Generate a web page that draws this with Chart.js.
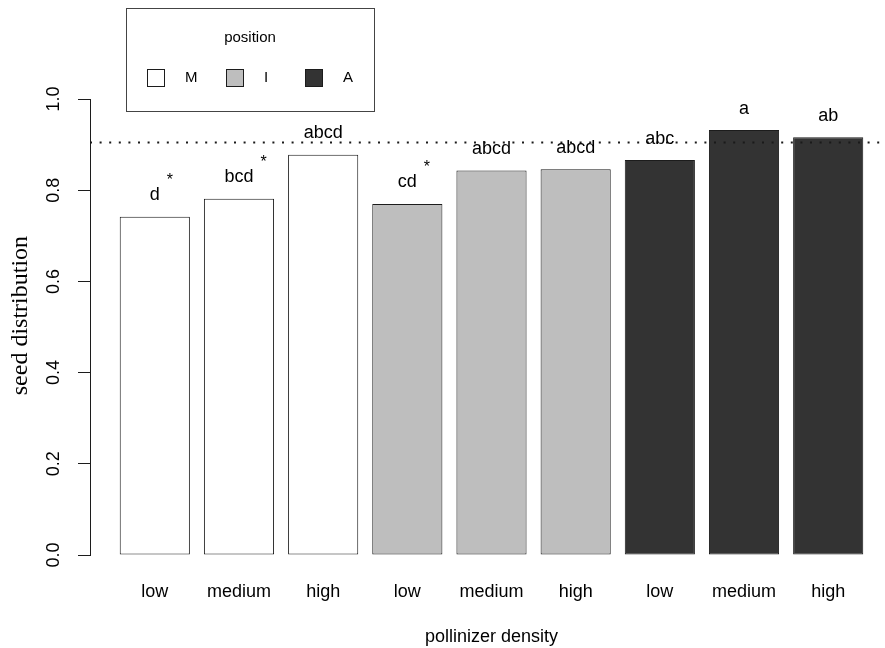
<!DOCTYPE html>
<html>
<head>
<meta charset="utf-8">
<script src="https://cdn.jsdelivr.net/npm/chart.js@4.4.1/dist/chart.umd.min.js"></script>
<style>
  html, body { margin: 0; padding: 0; background: #ffffff; overflow: hidden; }
  #wrap { width: 885px; height: 648px; overflow: hidden; position: relative; }
  canvas { display: block; }
</style>
</head>
<body>
<div id="wrap"><canvas id="chart" width="895" height="648"></canvas></div>
<script>
// Flower position groups and pollinizer density levels
const positions = ['M', 'I', 'A'];
const densities = ['low', 'medium', 'high'];

// Mean seed distribution per density level, one array per position
const seedM = [0.742, 0.781, 0.878];
const seedI = [0.770, 0.843, 0.846];
const seedA = [0.866, 0.932, 0.916];

// Significance letters shown above each bar
const lettersM = ['d', 'bcd', 'abcd'];
const lettersI = ['cd', 'abcd', 'abcd'];
const lettersA = ['abc', 'a', 'ab'];

// Markers for bars that differ from the reference level
const starsM = ['*', '*', ''];
const starsI = ['*', '', ''];
const starsA = ['', '', ''];

// Reference level drawn as a dotted line
const referenceLevel = 0.905;

// Y axis ticks and the vertical range the axis title is centred on
const yTicks = [0.0, 0.2, 0.4, 0.6, 0.8, 1.0];
const yTitleRange = [0, 1.05];

const seriesValues = [seedM, seedI, seedA];
const seriesLetters = [lettersM, lettersI, lettersA];
const seriesStars = [starsM, starsI, starsA];
const groupFill = ['#ffffff', '#bebebe', '#333333'];

// barplot layout: unit-wide bars separated by 0.2 spaces
const SPACE = 0.2;
const barCount = positions.length * densities.length;
const barCenter = k => SPACE * (k + 1) + k + 0.5;
const xFirst = SPACE;
const xLast = barCount * (1 + SPACE);
const xPad = 0.04 * (xLast - xFirst);

const datasets = positions.map((p, g) => ({
  label: p,
  data: seriesValues[g].map((v, i) => ({ x: barCenter(g * densities.length + i), y: v })),
  backgroundColor: groupFill[g],
  borderColor: '#1c1c1c',
  borderWidth: 1,
  borderSkipped: false,
  grouped: false,
  categoryPercentage: 1 / (1 + SPACE),
  barPercentage: 1
}));

// Dotted reference line across the plot
const referenceLine = {
  id: 'referenceLine',
  afterDatasetsDraw(chart) {
    const { ctx, chartArea, scales } = chart;
    const y = Math.round(scales.y.getPixelForValue(referenceLevel)) + 0.5;
    ctx.save();
    ctx.strokeStyle = '#1a1a1a';
    ctx.lineWidth = 2;
    ctx.setLineDash([2, 7.6]);
    ctx.beginPath();
    ctx.moveTo(chartArea.left, y);
    ctx.lineTo(chartArea.right, y);
    ctx.stroke();
    ctx.restore();
  }
};

// Letters and asterisks above the bars
const barLetters = {
  id: 'barLetters',
  afterDatasetsDraw(chart) {
    const { ctx } = chart;
    ctx.save();
    ctx.fillStyle = '#000000';
    chart.data.datasets.forEach((ds, g) => {
      const meta = chart.getDatasetMeta(g);
      meta.data.forEach((bar, i) => {
        const text = seriesLetters[g][i];
        const base = bar.y - 16.5;
        ctx.font = '18px "Liberation Sans", Arial, sans-serif';
        ctx.textAlign = 'center';
        ctx.textBaseline = 'alphabetic';
        ctx.fillText(text, bar.x, base);
        const star = seriesStars[g][i];
        if (star) {
          const w = ctx.measureText(text).width;
          ctx.font = '16px "Liberation Sans", Arial, sans-serif';
          ctx.fillText(star, bar.x + w / 2 + 10, base - 15);
        }
      });
    });
    ctx.restore();
  }
};

// Y axis title, serif, centred on the padded value range
const yAxisTitle = {
  id: 'yAxisTitle',
  afterDraw(chart) {
    const { ctx, scales } = chart;
    const mid = (yTitleRange[0] + yTitleRange[1]) / 2;
    ctx.save();
    ctx.translate(21, scales.y.getPixelForValue(mid));
    ctx.rotate(-Math.PI / 2);
    ctx.fillStyle = '#000000';
    ctx.font = '24px "Liberation Serif", "Times New Roman", serif';
    ctx.textAlign = 'center';
    ctx.textBaseline = 'middle';
    ctx.fillText('seed distribution', 0, 0);
    ctx.restore();
  }
};

// Boxed legend with a title, entries in one row
const boxLegend = {
  id: 'boxLegend',
  afterDraw(chart) {
    const { ctx } = chart;
    const left = 126, top = 8, width = 248, height = 103;
    ctx.save();
    ctx.strokeStyle = '#444444';
    ctx.lineWidth = 1;
    ctx.strokeRect(left + 0.5, top + 0.5, width, height);
    ctx.fillStyle = '#000000';
    ctx.font = '15px "Liberation Sans", Arial, sans-serif';
    ctx.textAlign = 'center';
    ctx.textBaseline = 'middle';
    ctx.fillText('position', left + width / 2, top + 30);
    const rowY = top + 70;
    chart.data.datasets.forEach((ds, g) => {
      const bx = left + 21 + g * 79;
      ctx.fillStyle = ds.backgroundColor;
      ctx.fillRect(bx, rowY - 9, 18, 18);
      ctx.strokeStyle = '#1c1c1c';
      ctx.strokeRect(bx + 0.5, rowY - 9 + 0.5, 17, 17);
      ctx.fillStyle = '#000000';
      ctx.textAlign = 'left';
      ctx.fillText(ds.label, bx + 38, rowY);
    });
    ctx.restore();
  }
};

Chart.defaults.font.family = '"Liberation Sans", Arial, sans-serif';
Chart.defaults.color = '#000000';

new Chart(document.getElementById('chart'), {
  type: 'bar',
  data: { datasets },
  options: {
    responsive: false,
    animation: false,
    devicePixelRatio: 1,
    layout: { padding: { top: 99, right: 2, bottom: 0, left: 0 } },
    plugins: { legend: { display: false }, tooltip: { enabled: false } },
    scales: {
      x: {
        type: 'linear',
        offset: false,
        min: xFirst - xPad,
        max: xLast + xPad,
        afterBuildTicks(scale) {
          scale.ticks = Array.from({ length: barCount }, (_, k) => ({ value: barCenter(k) }));
        },
        afterFit(scale) { scale.height = 93; },
        grid: { display: false, drawTicks: false, offset: false },
        border: { display: false },
        ticks: {
          autoSkip: false,
          maxRotation: 0,
          padding: 26,
          font: { size: 18 },
          callback: (v, idx) => densities[idx % densities.length]
        },
        title: {
          display: true,
          text: 'pollinizer density',
          font: { size: 18 },
          padding: { top: 0, bottom: 0 }
        }
      },
      y: {
        min: 0,
        max: 1,
        afterBuildTicks(scale) {
          scale.ticks = yTicks.map(v => ({ value: v }));
        },
        afterFit(scale) { scale.width = 90; },
        grid: { drawOnChartArea: false, drawTicks: true, tickLength: 12, color: '#1c1c1c', lineWidth: 1 },
        border: { display: true, color: '#1c1c1c', width: 1 },
        ticks: {
          minRotation: 90,
          maxRotation: 90,
          crossAlign: 'center',
          padding: 11,
          font: { size: 18 },
          callback: v => v.toFixed(1)
        },
        title: { display: false }
      }
    }
  },
  plugins: [referenceLine, barLetters, yAxisTitle, boxLegend]
});
</script>
</body>
</html>
